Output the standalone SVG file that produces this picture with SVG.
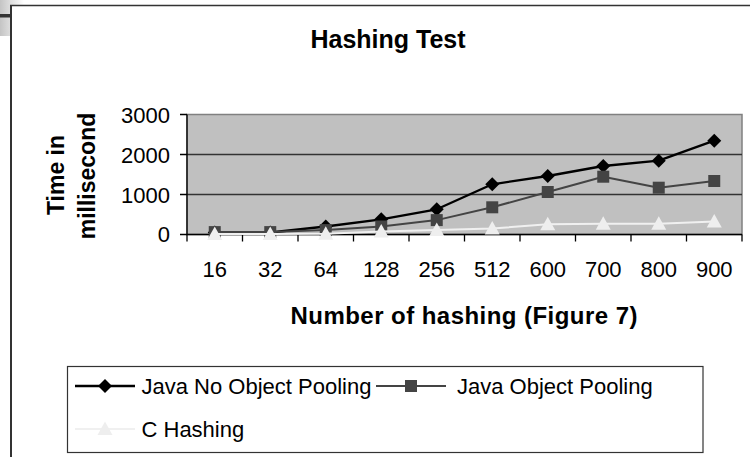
<svg xmlns="http://www.w3.org/2000/svg" xmlns:xlink="http://www.w3.org/1999/xlink" width="750" height="457" viewBox="0 0 750 457">
  <style>
    .lbl { font-family: "Liberation Sans", Arial, sans-serif; font-size: 22px; fill: #000; }
    .bold { font-family: "Liberation Sans", Arial, sans-serif; font-weight: bold; fill: #000; }
    .grid { stroke: #333; stroke-width: 1.3; }
    .axis { stroke: #000; stroke-width: 1.3; fill: none; }
    .s1 { stroke: #000; stroke-width: 2.3; fill: none; stroke-linejoin: round; }
    .s2 { stroke: #444; stroke-width: 2; fill: none; stroke-linejoin: round; }
    .s3 { stroke: #f0f0f0; stroke-width: 2; fill: none; stroke-linejoin: round; }
  </style>
  <defs>
    <linearGradient id="edge" x1="0" y1="0" x2="1" y2="0">
      <stop offset="0" stop-color="#c4c4c4"/>
      <stop offset="1" stop-color="#ffffff"/>
    </linearGradient>
    <path id="dia" d="M0,-7 L7,0 L0,7 L-7,0Z" fill="#000"/>
    <rect id="sq" x="-6" y="-6" width="12" height="12" fill="#444"/>
    <path id="tri" d="M0,-7.5 L7.5,6 L-7.5,6Z" fill="#eeeeee"/>
  </defs>

  <rect width="750" height="457" fill="#fff"/>

  <!-- page corner and chart frame -->
  <g id="frame">
    <rect x="0" y="0" width="24" height="36" fill="url(#edge)"/>
    <rect x="0" y="14" width="11" height="3.5" fill="#333"/>
    <rect x="11" y="6" width="739" height="451" fill="#fff"/>
    <line x1="10" y1="5.5" x2="750" y2="5.5" stroke="#333" stroke-width="1.5"/>
    <line x1="11" y1="5" x2="11" y2="457" stroke="#333" stroke-width="2"/>
  </g>

  <text id="title" class="bold" x="388" y="47.5" font-size="25" text-anchor="middle">Hashing Test</text>

  <!-- value axis title -->
  <g id="y-title" class="bold" font-size="23" text-anchor="middle">
    <text transform="translate(63.5,175) rotate(-90)">Time in</text>
    <text transform="translate(95,176) rotate(-90)">millisecond</text>
  </g>

  <!-- plot area -->
  <g id="plot">
    <rect x="187" y="114.5" width="555" height="120" fill="#c0c0c0" stroke="#808080" stroke-width="1.5"/>
    <line class="grid" x1="187" y1="154.5" x2="742" y2="154.5"/>
    <line class="grid" x1="187" y1="194.5" x2="742" y2="194.5"/>
    <path class="axis" d="M187,114.5 V234.5 H742"/>
    <path class="axis" d="M180,114.5 H187 M180,154.5 H187 M180,194.5 H187 M180,234.5 H187"/>
    <path class="axis" d="M187,234.5 v7 M242.5,234.5 v7 M298,234.5 v7 M353.5,234.5 v7 M409,234.5 v7 M464.5,234.5 v7 M520,234.5 v7 M575.5,234.5 v7 M631,234.5 v7 M686.5,234.5 v7 M742,234.5 v7"/>
  </g>

  <!-- value axis labels -->
  <g id="y-labels" class="lbl" text-anchor="end">
    <text x="170" y="123">3000</text>
    <text x="170" y="163">2000</text>
    <text x="170" y="203">1000</text>
    <text x="170" y="242">0</text>
  </g>

  <!-- category axis labels -->
  <g id="x-labels" class="lbl" text-anchor="middle">
    <text x="214.75" y="277">16</text>
    <text x="270.25" y="277">32</text>
    <text x="325.75" y="277">64</text>
    <text x="381.25" y="277">128</text>
    <text x="436.75" y="277">256</text>
    <text x="492.25" y="277">512</text>
    <text x="547.75" y="277">600</text>
    <text x="603.25" y="277">700</text>
    <text x="658.75" y="277">800</text>
    <text x="714.25" y="277">900</text>
  </g>

  <text id="x-title" class="bold" x="464" y="324" font-size="24" text-anchor="middle" textLength="347" lengthAdjust="spacing">Number of hashing (Figure 7)</text>

  <!-- data series -->
  <g id="series-java-no-pooling">
    <polyline class="s1" points="214.75,232.5 270.25,232.5 325.75,226.5 381.25,219.3 436.75,209.3 492.25,184.3 547.75,176 603.25,166 658.75,160.7 714.25,140.7"/>
    <use href="#dia" x="214.75" y="232.5"/>
    <use href="#dia" x="270.25" y="232.5"/>
    <use href="#dia" x="325.75" y="226.5"/>
    <use href="#dia" x="381.25" y="219.3"/>
    <use href="#dia" x="436.75" y="209.3"/>
    <use href="#dia" x="492.25" y="184.3"/>
    <use href="#dia" x="547.75" y="176"/>
    <use href="#dia" x="603.25" y="166"/>
    <use href="#dia" x="658.75" y="160.7"/>
    <use href="#dia" x="714.25" y="140.7"/>
  </g>
  <g id="series-java-pooling">
    <polyline class="s2" points="214.75,232.1 270.25,232.1 325.75,230.1 381.25,226.5 436.75,220.1 492.25,207.3 547.75,192 603.25,176.7 658.75,187.7 714.25,181"/>
    <use href="#sq" x="214.75" y="232.1"/>
    <use href="#sq" x="270.25" y="232.1"/>
    <use href="#sq" x="325.75" y="230.1"/>
    <use href="#sq" x="381.25" y="226.5"/>
    <use href="#sq" x="436.75" y="220.1"/>
    <use href="#sq" x="492.25" y="207.3"/>
    <use href="#sq" x="547.75" y="192"/>
    <use href="#sq" x="603.25" y="176.7"/>
    <use href="#sq" x="658.75" y="187.7"/>
    <use href="#sq" x="714.25" y="181"/>
  </g>
  <g id="series-c-hashing">
    <polyline class="s3" points="214.75,233.9 270.25,233.9 325.75,233.7 381.25,231.5 436.75,230.1 492.25,228.5 547.75,224.3 603.25,223.7 658.75,223.7 714.25,221.5"/>
    <use href="#tri" x="214.75" y="233.9"/>
    <use href="#tri" x="270.25" y="233.9"/>
    <use href="#tri" x="325.75" y="233.7"/>
    <use href="#tri" x="381.25" y="231.5"/>
    <use href="#tri" x="436.75" y="230.1"/>
    <use href="#tri" x="492.25" y="228.5"/>
    <use href="#tri" x="547.75" y="224.3"/>
    <use href="#tri" x="603.25" y="223.7"/>
    <use href="#tri" x="658.75" y="223.7"/>
    <use href="#tri" x="714.25" y="221.5"/>
  </g>

  <!-- legend -->
  <g id="legend">
    <rect x="67.5" y="366.5" width="635.5" height="86" fill="#fff" stroke="#333" stroke-width="1.2"/>
    <line class="s1" x1="75" y1="386" x2="135" y2="386"/>
    <use href="#dia" x="105" y="386"/>
    <text class="lbl" x="141.5" y="394">Java No Object Pooling</text>
    <line class="s2" x1="376" y1="386" x2="446" y2="386"/>
    <use href="#sq" x="411" y="386"/>
    <text class="lbl" x="457" y="394">Java Object Pooling</text>
    <line class="s3" x1="75" y1="429" x2="135" y2="429"/>
    <use href="#tri" x="105" y="429"/>
    <text class="lbl" x="141.5" y="436.5">C Hashing</text>
  </g>
</svg>
